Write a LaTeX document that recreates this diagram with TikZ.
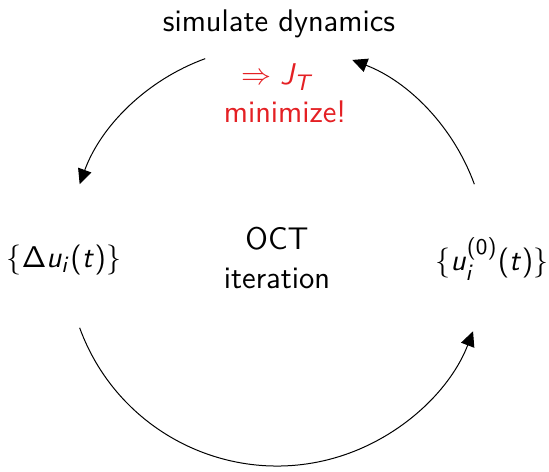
\documentclass[tikz,border=0pt]{standalone}
\usepackage{amssymb,amsmath,tikz}
\usetikzlibrary{arrows.meta}
\DeclareMathAlphabet{\mathsfit}{OT1}{cmss}{m}{sl}
\DeclareSymbolFont{sfops}{OT1}{cmss}{m}{n}
\DeclareMathSymbol{(}{\mathopen}{sfops}{"28}
\DeclareMathSymbol{)}{\mathclose}{sfops}{"29}
\DeclareMathSymbol{0}{\mathalpha}{sfops}{"30}
\definecolor{hired}{RGB}{228,32,36}
\begin{document}
\begin{tikzpicture}[x=0.4pt,y=0.4pt,font=\fontsize{12.5}{15.6}\selectfont\sffamily]
\tikzstyle{lbl}=[inner sep=1pt,align=center]
\tikzstyle{cyc}=[draw,thin,-{Triangle[length=6pt,width=5.6pt]}]
    \useasboundingbox (-277,-216) rectangle (272,256);
    \coordinate (c) at (0,0);
    \node[lbl] (1) at (2,232) {simulate dynamics};
    \node[lbl,text=hired] (2) at (1,179) {$\Rightarrow \mathsfit{J}_{\mathsfit{T}}$};
    \node[lbl,text=hired] (3) at (8,144) {minimize!};
    \node[lbl] (4) at (-213,-4) {$\{\mathsf{\Delta}\mathsfit{u}_{\mathsfit{i}}(\mathsfit{t})\}$};
    \node[lbl] (5) at (0,-2) {OCT\\iteration};
    \node[lbl] (6) at (215,-3) {$\{\mathsfit{u}_{\mathsfit{i}}^{(0)}(\mathsfit{t})\}$};
    \path[cyc] ([shift={(110:210)}]c) arc[start angle=110,end angle=160,radius=210];
    \path[cyc] ([shift={(20:210)}]c) arc[start angle=20,end angle=69,radius=210];
    \path[cyc] ([shift={(200:210)}]c) arc[start angle=200,end angle=339,radius=210];
\end{tikzpicture}
\end{document}
